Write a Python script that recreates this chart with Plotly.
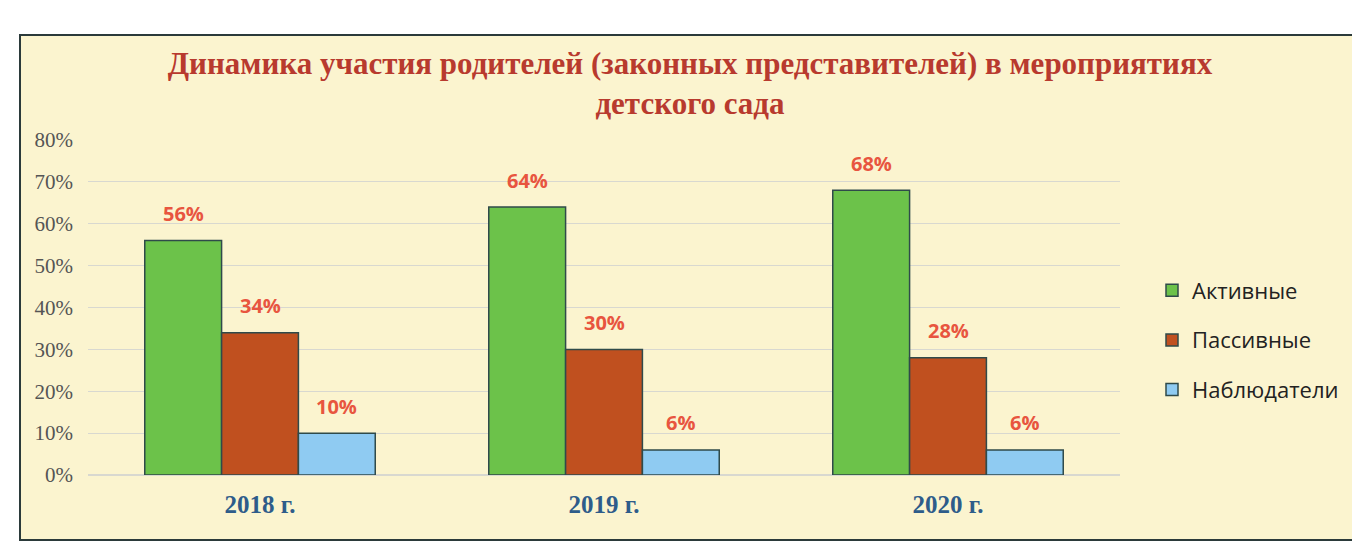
import plotly.graph_objects as go

categories = ["2018 г.", "2019 г.", "2020 г."]
series_names = ["Активные", "Пассивные", "Наблюдатели"]
active = [56, 64, 68]
passive = [34, 30, 28]
observers = [10, 6, 6]
y_ticks = [0, 10, 20, 30, 40, 50, 60, 70, 80]
y_tick_labels = [f"{t}%" for t in y_ticks]

colors = ["#6CC24A", "#C0501F", "#8FCBF2"]
values = [active, passive, observers]

fig = go.Figure()
for i, (name, vals) in enumerate(zip(series_names, values)):
    fig.add_trace(go.Bar(
        x=categories, y=vals, name=name, legendgroup=name,
        marker=dict(color=colors[i], line=dict(color="#2F4A4A", width=1.5)),
        offsetgroup=str(i),
    ))

# data labels as annotations above bars
n = len(series_names)
group_w = 0.67
bar_w = group_w / n
for i, vals in enumerate(values):
    for j, v in enumerate(vals):
        fig.add_annotation(
            x=j - group_w / 2 + bar_w * (i + 0.5), y=v, xref="x", yref="y",
            text=f"{v}%", showarrow=False, yshift=27,
            font=dict(family="Open Sans", size=20, color="#E8553F", weight="bold"),
        )

# page offset of 8px (body margin) is compensated
OFF = 8
W, H = 1360 - OFF, 550 - OFF
PL, PR, PT, PB = 88, 1120, 140, 475  # plot area in window pixels
L, R, T, B = PL - OFF, 1360 - PR, PT - OFF, 550 - PB
pw, ph = W - L - R, H - T - B
def px(x):
    return (x - PL) / pw
def py(y):
    return (PB - y) / ph
fig.add_shape(type="rect", xref="paper", yref="paper",
              x0=px(20), x1=px(1358), y0=py(540), y1=py(35),
              fillcolor="#FBF4CF", line=dict(color="#2B3A3A", width=2), layer="below")

fig.update_layout(
    width=W, height=H,
    margin=dict(l=L, r=R, t=T, b=B),
    paper_bgcolor="white", plot_bgcolor="rgba(0,0,0,0)",
    barmode="group", bargap=0.33, bargroupgap=0,
    title=dict(text="Динамика участия родителей (законных представителей) в мероприятиях<br>детского сада",
               x=(690 - OFF) / W, xanchor="center", y=1 - (74 - OFF) / H, yanchor="middle",
               font=dict(family="Liberation Serif", size=31, color="#B83A2E", weight="bold")),
    legend=dict(x=px(1152), y=py(340), xanchor="left", yanchor="middle",
                font=dict(family="Open Sans", size=22, color="#222"),
                itemwidth=30, tracegroupgap=18, bgcolor="rgba(0,0,0,0)"),
    showlegend=True,
)
fig.update_xaxes(showline=False, ticks="", ticklabelstandoff=12,
                 tickfont=dict(family="Liberation Serif", size=25, color="#2E5C8A", weight="bold"))
fig.update_yaxes(range=[0, 80], tickvals=y_ticks, ticktext=y_tick_labels, showline=False,
                 gridcolor="#D8D8D0", gridwidth=1, zeroline=True, zerolinecolor="#D8D8D0",
                 ticklabelstandoff=14,
                 tickfont=dict(family="Liberation Serif", size=21, color="#555"))

fig.write_html("out.html")
